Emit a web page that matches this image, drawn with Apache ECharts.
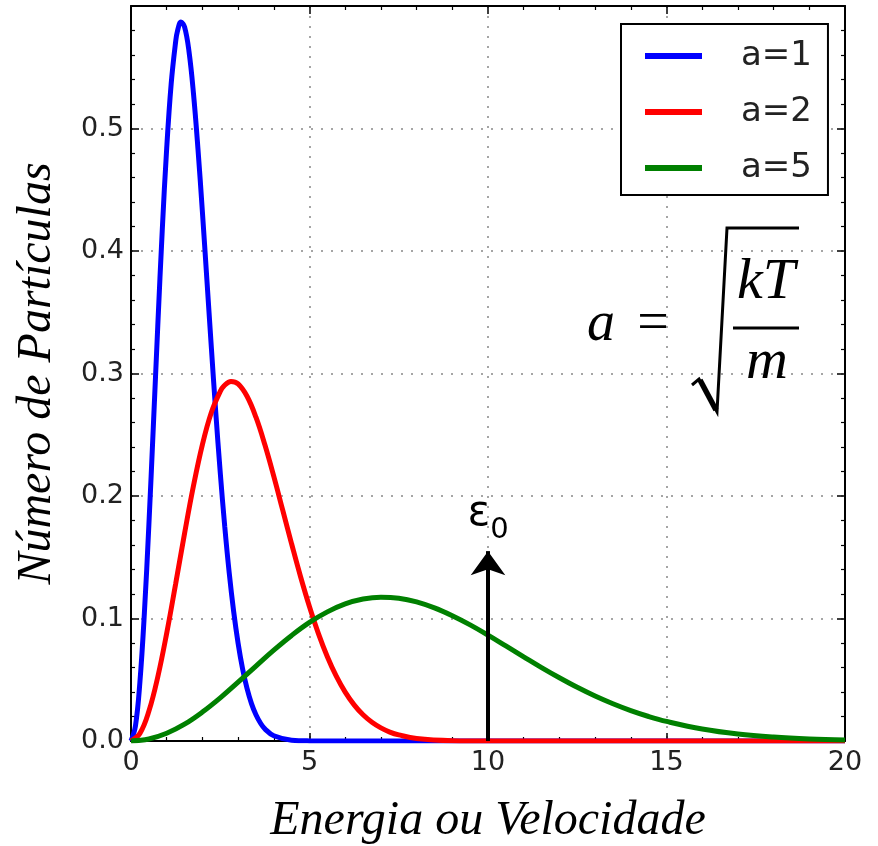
<!DOCTYPE html>
<html>
<head>
<meta charset="utf-8">
<script src="https://cdn.jsdelivr.net/npm/echarts@6/dist/echarts.min.js"></script>
<style>
html,body{margin:0;padding:0;background:#fff;}
#chart{width:878px;height:846px;}
</style>
</head>
<body>
<div id="chart"></div>
<script>
// ---- data ----
const seriesNames = ['a=1', 'a=2', 'a=5'];
const seriesColors = ['#0000ff', '#ff0000', '#008000'];

const x1 = [0, 0.125, 0.25, 0.375, 0.5, 0.625, 0.75, 0.875, 1.0, 1.125, 1.25, 1.3, 1.4, 1.5, 1.625, 1.75, 1.875, 2.0, 2.125, 2.25, 2.375, 2.5, 2.625, 2.75, 2.875, 3.0, 3.125, 3.25, 3.375, 3.5, 3.625, 3.75, 4.0, 4.5, 5, 6, 20];
const y1 = [0, 0.0124, 0.0483, 0.1046, 0.176, 0.2564, 0.3388, 0.4166, 0.4839, 0.5363, 0.5707, 0.5793, 0.5869, 0.5829, 0.5628, 0.5286, 0.4836, 0.4319, 0.3769, 0.3215, 0.2681, 0.2191, 0.1754, 0.1375, 0.1058, 0.0798, 0.059, 0.0429, 0.0305, 0.0214, 0.0147, 0.0099, 0.0043, 0.0007, 0.0001, 0, 0];

const x2 = [0, 0.25, 0.5, 0.75, 1, 1.25, 1.5, 1.75, 2, 2.25, 2.5, 2.6, 2.8, 3, 3.25, 3.5, 3.75, 4, 4.25, 4.5, 4.75, 5, 5.25, 5.5, 5.75, 6, 6.25, 6.5, 6.75, 7, 7.25, 7.5, 8, 9, 10, 20];
const y2 = [0, 0.0062, 0.0242, 0.0523, 0.088, 0.1282, 0.1694, 0.2083, 0.242, 0.2682, 0.2854, 0.2897, 0.2935, 0.2915, 0.2814, 0.2643, 0.2418, 0.216, 0.1884, 0.1608, 0.1341, 0.1096, 0.0877, 0.0688, 0.0529, 0.0399, 0.0295, 0.0214, 0.0153, 0.0107, 0.0073, 0.005, 0.0021, 0.0003, 0, 0];

const x5 = [0, 0.5, 1, 1.5, 2, 2.5, 3, 3.5, 4, 4.5, 5, 5.5, 6, 6.5, 7, 7.5, 8, 8.5, 9, 9.5, 10, 10.5, 11, 11.5, 12, 12.5, 13, 13.5, 14, 14.5, 15, 16, 17, 18, 19, 20];
const y5 = [0, 0.0016, 0.0063, 0.0137, 0.0236, 0.0352, 0.048, 0.0612, 0.0742, 0.0862, 0.0968, 0.1054, 0.1119, 0.1159, 0.1174, 0.1166, 0.1136, 0.1087, 0.1023, 0.0948, 0.0864, 0.0776, 0.0687, 0.0599, 0.0516, 0.0438, 0.0367, 0.0304, 0.0248, 0.02, 0.016, 0.0098, 0.0057, 0.0032, 0.0017, 0.0009];

const arrowX = 10;
const arrowTop = 0.155;

const xTicks = [0, 5, 10, 15, 20];
const yTicks = [0, 0.1, 0.2, 0.3, 0.4, 0.5];

// ---- chart ----
const chart = echarts.init(document.getElementById('chart'));
const zip = (xs, ys) => xs.map((x, i) => [x, ys[i]]);
const allX = [x1, x2, x5];
const allY = [y1, y2, y5];

const tickFont = {fontFamily: 'DejaVu Sans', fontSize: 27, color: '#222'};
const serifItalic = {fontFamily: 'Liberation Serif', fontStyle: 'italic', color: '#000'};

function xAxisCfg(pos, labels) {
  return {
    type: 'value', position: pos, min: xTicks[0], max: xTicks[xTicks.length - 1], interval: 5,
    axisLine: {show: true, onZero: false, lineStyle: {color: '#000', width: 2}},
    axisTick: {show: true, inside: true, length: 8, lineStyle: {color: '#000', width: 1.5}},
    minorTick: {show: true, splitNumber: 5, length: 4, lineStyle: {color: '#000', width: 1.2}},
    splitLine: {show: labels, lineStyle: {color: '#888', width: 1.5, type: [2, 8]}},
    axisLabel: Object.assign({show: labels, margin: 8}, tickFont),
    name: labels ? 'Energia ou Velocidade' : '',
    nameLocation: 'middle', nameGap: 56,
    nameTextStyle: Object.assign({fontSize: 48}, serifItalic)
  };
}
function yAxisCfg(pos, labels) {
  return {
    type: 'value', position: pos, min: 0, max: 0.6, interval: 0.1,
    axisLine: {show: true, onZero: false, lineStyle: {color: '#000', width: 2}},
    axisTick: {show: true, inside: true, length: 8, lineStyle: {color: '#000', width: 1.5}},
    minorTick: {show: true, splitNumber: 5, length: 4, lineStyle: {color: '#000', width: 1.2}},
    splitLine: {show: labels, lineStyle: {color: '#888', width: 1.5, type: [2, 8]}},
    axisLabel: Object.assign({show: labels, margin: 7, showMaxLabel: false,
      formatter: v => v.toFixed(1)}, tickFont),
    name: labels ? 'Número de Partículas' : '',
    nameLocation: 'middle', nameGap: 70,
    nameTextStyle: Object.assign({fontSize: 48}, serifItalic)
  };
}

const series = seriesNames.map((n, i) => ({
  name: n, type: 'line', showSymbol: false, smooth: 0.4,
  data: zip(allX[i], allY[i]),
  lineStyle: {color: seriesColors[i], width: 5},
  itemStyle: {color: seriesColors[i]},
  z: 2 + i
}));
series[2].markLine = {
  silent: true, symbol: ['none', 'arrow'], symbolSize: [26, 24],
  lineStyle: {color: '#000', width: 4, type: 'solid'},
  label: {
    show: true, position: 'end', distance: 6,
    formatter: '{e|ε}{s|0}',
    rich: {
      e: {fontFamily: 'DejaVu Sans', fontSize: 42, color: '#000', lineHeight: 44, verticalAlign: 'bottom', padding: [0, 0, 10, 0]},
      s: {fontFamily: 'DejaVu Sans', fontSize: 29, color: '#000', lineHeight: 29, verticalAlign: 'bottom'}
    }
  },
  emphasis: {disabled: true},
  data: [[{coord: [arrowX, 0]}, {coord: [arrowX, arrowTop]}]]
};

chart.setOption({
  animation: false,
  backgroundColor: '#fff',
  grid: {left: 131, right: 33, top: 6, bottom: 105, containLabel: false, outerBoundsMode: 'none'},
  xAxis: [xAxisCfg('bottom', true), xAxisCfg('top', false)],
  yAxis: [yAxisCfg('left', true), yAxisCfg('right', false)],
  legend: {
    orient: 'vertical', left: 621, top: 24,
    data: seriesNames,
    icon: 'rect', itemWidth: 57, itemHeight: 6, itemGap: 22,
    padding: [15, 16, 10, 24],
    borderColor: '#000', borderWidth: 2, backgroundColor: '#fff',
    textStyle: {fontFamily: 'DejaVu Sans', fontSize: 34, color: '#222', lineHeight: 32, padding: [0, 0, 0, 34]}
  },
  graphic: [
    {type: 'text', z: 100, style: {x: 601, y: 325, text: 'a', fontSize: 56, align: 'center', verticalAlign: 'middle', fontFamily: 'Liberation Serif', fontStyle: 'italic', fill: '#000'}},
    {type: 'text', z: 100, style: {x: 653, y: 325, text: '=', fontSize: 56, align: 'center', verticalAlign: 'middle', fontFamily: 'Liberation Serif', fill: '#000'}},
    {type: 'polyline', z: 100, shape: {points: [[692, 385], [699, 379], [717, 412], [727, 228], [799, 228]]}, style: {stroke: '#000', lineWidth: 3, fill: null}},
    {type: 'line', z: 100, shape: {x1: 700, y1: 380, x2: 716, y2: 410}, style: {stroke: '#000', lineWidth: 5.5}},
    {type: 'line', z: 100, shape: {x1: 733, y1: 328, x2: 799, y2: 328}, style: {stroke: '#000', lineWidth: 3}},
    {type: 'text', z: 100, style: {x: 766, y: 283, text: 'kT', fontSize: 58, align: 'center', verticalAlign: 'middle', fontFamily: 'Liberation Serif', fontStyle: 'italic', fill: '#000'}},
    {type: 'text', z: 100, style: {x: 767, y: 363, text: 'm', fontSize: 58, align: 'center', verticalAlign: 'middle', fontFamily: 'Liberation Serif', fontStyle: 'italic', fill: '#000'}}
  ],
  series: series
});
</script>
</body>
</html>
